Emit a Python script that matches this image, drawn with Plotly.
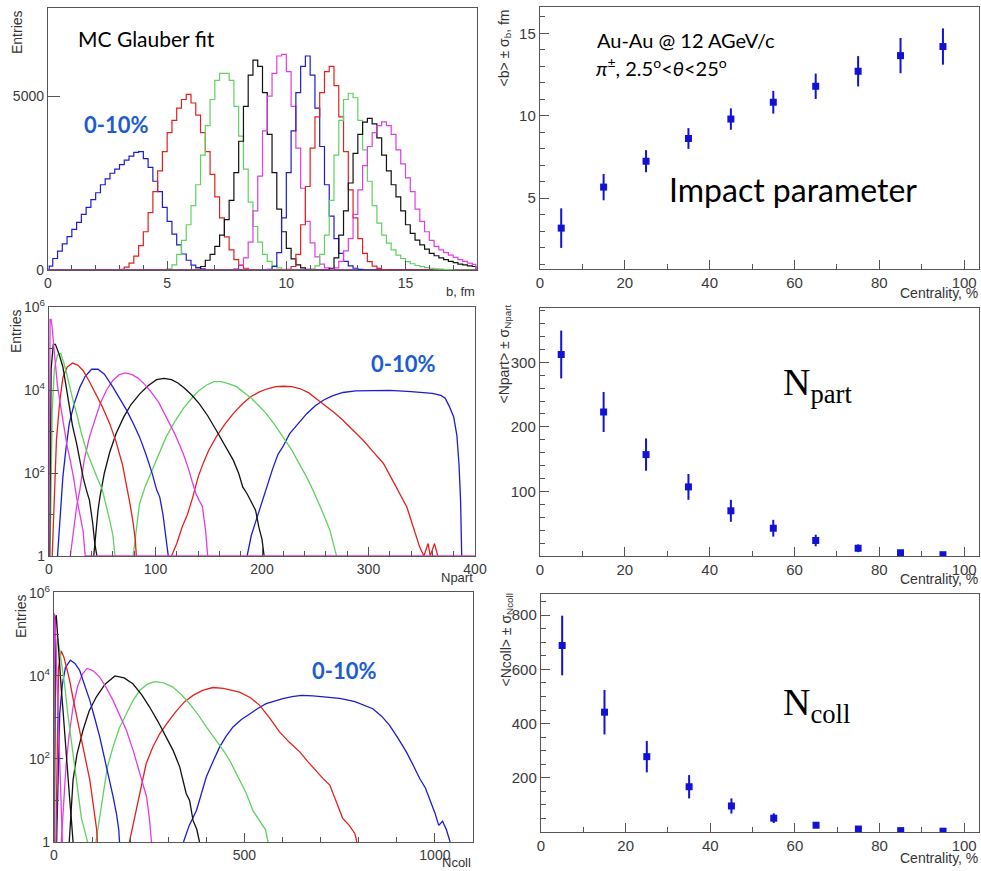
import numpy as np
import plotly.graph_objects as go

W, H = 981, 871

# ---------------- centrality classes ----------------
classes = ["0-10%", "10-20%", "20-30%", "30-40%", "40-50%",
           "50-60%", "60-70%", "70-80%", "80-90%", "90-100%"]
palette = ["#1c1cd2", "#e3211d", "#5fd25f", "#111111", "#e23de2"]
class_colors = palette * 2

# ---------------- impact parameter distributions (entries / 0.2 fm bin) ----------------
b_starts = [0.1, 3.1, 5.1, 6.3, 7.9, 9.3, 10.1, 11.1, 11.9, 12.1]
b_00_10 = [110, 330, 540, 750, 960, 1170, 1370, 1600, 1800, 2020, 2220, 2450, 2620, 2780, 2900,
           3030, 3160, 3270, 3380, 3400, 3200, 2950, 2550, 2250, 1800, 1400, 1030, 720, 460, 280,
           140, 70, 30, 10]
b_10_20 = [20, 80, 200, 400, 700, 1100, 1650, 2250, 2850, 3400, 3950, 4300, 4650, 4900, 5050,
           4800, 4450, 3950, 3400, 2750, 2100, 1500, 950, 580, 300, 130, 50, 15]
b_20_30 = [30, 150, 450, 850, 1300, 1850, 2450, 3300, 4150, 4900, 5450, 5650, 5650, 5450, 4700,
           3850, 2900, 1950, 1250, 800, 450, 250, 130, 60, 20]
b_30_40 = [20, 100, 280, 450, 680, 1000, 1450, 2000, 2800, 3700, 4700, 5600, 6030, 5850, 5100,
           3900, 2800, 1750, 1100, 620, 320, 150, 60, 20]
b_40_50 = [30, 150, 350, 800, 1700, 2700, 4000, 5000, 5650, 6150, 6200, 5700, 4700, 3500, 2350,
           1400, 780, 380, 170, 60, 20]
b_50_60 = [20, 100, 500, 1500, 2800, 4000, 5100, 5850, 6150, 5600, 4650, 3550, 2450, 1550, 900,
           480, 250, 120, 50, 20]
b_60_70 = [20, 100, 450, 1300, 2400, 3500, 4400, 5100, 5700, 5850, 5300, 4400, 3400, 2300, 1500,
           900, 480, 240, 110, 45, 15]
b_70_80 = [30, 120, 450, 1000, 2000, 3300, 4300, 4900, 5080, 4950, 4300, 3450, 2550, 1850, 1350,
           1000, 770, 580, 430, 330, 240, 180, 130, 95, 70, 50, 35, 25, 15, 10]
b_80_90 = [50, 350, 1000, 1700, 2500, 3350, 3900, 4250, 4360, 4200, 3800, 3300, 2850, 2450, 2100,
           1700, 1300, 1050, 860, 720, 600, 480, 410, 350, 300, 250, 210, 170, 145, 120, 100]
b_90_100 = [60, 250, 550, 900, 1600, 2300, 3000, 3550, 3950, 4150, 4260, 4150, 3900, 3450, 3050,
            2650, 2250, 1750, 1400, 1100, 850, 680, 580, 500, 430, 360, 300, 250, 200, 160]
b_hists = [b_00_10, b_10_20, b_20_30, b_30_40, b_40_50,
           b_50_60, b_60_70, b_70_80, b_80_90, b_90_100]

# ---------------- Npart distributions (x, log10 entries) ----------------
npart_00_10_x = [186, 190, 195, 200, 205, 210, 215, 220, 226, 234, 242, 250, 258, 266, 276, 288,
                 300, 320, 340, 360, 368, 372, 376, 380, 383, 385, 386.5, 387.5]
npart_00_10_lg = [0, 0.5, 0.9, 1.3, 1.75, 2.1, 2.45, 2.65, 2.95, 3.2, 3.43, 3.62, 3.76, 3.86, 3.94,
                  3.98, 3.99, 3.99, 3.96, 3.92, 3.87, 3.8, 3.6, 3.35, 2.9, 2.2, 1.3, 0]
npart_10_20_x = [115, 120, 125, 130, 135, 140, 145, 150, 157, 165, 173, 181, 189, 197, 205, 213,
                 220, 228, 236, 244, 251, 260, 268, 276, 285, 295, 304, 314, 320, 326, 331, 336,
                 342, 348, 352, 356, 358, 362, 365]
npart_10_20_lg = [0, 0.3, 0.7, 1.0, 1.42, 1.9, 2.25, 2.55, 2.87, 3.17, 3.43, 3.65, 3.83, 3.95,
                  4.03, 4.08, 4.09, 4.08, 4.03, 3.93, 3.79, 3.62, 3.45, 3.27, 3.05, 2.79, 2.52,
                  2.23, 1.95, 1.66, 1.42, 1.18, 0.7, 0.22, 0, 0.3, 0, 0.3, 0]
npart_20_30_x = [79, 82, 85, 90, 94, 102, 110, 118, 126, 134, 141, 148, 155, 162, 169, 176, 183,
                 190, 197, 204, 212, 220, 228, 235, 242, 248, 253, 257, 261, 264, 267, 270]
npart_20_30_lg = [0, 0.6, 1.26, 1.65, 1.9, 2.4, 2.87, 3.23, 3.55, 3.8, 3.99, 4.12, 4.2, 4.2, 4.15,
                  4.08, 3.95, 3.8, 3.62, 3.43, 3.16, 2.87, 2.55, 2.22, 1.9, 1.58, 1.3, 1.05, 0.8,
                  0.6, 0.3, 0]
npart_30_40_x = [42, 44, 46, 48, 52, 57, 63, 70, 77, 85, 93, 101, 108, 115, 121, 127, 134, 141,
                 149, 157, 165, 173, 178, 182, 186, 190, 194, 197, 200, 202]
npart_30_40_lg = [0, 0.6, 1.1, 1.45, 2.0, 2.5, 2.95, 3.34, 3.65, 3.9, 4.1, 4.25, 4.28, 4.25, 4.17,
                  4.05, 3.88, 3.67, 3.38, 3.03, 2.68, 2.31, 2.0, 1.66, 1.5, 1.3, 1.1, 0.7, 0.4, 0]
npart_40_50_x = [20, 23, 26, 29, 33, 38, 43, 48, 54, 60, 66, 72, 78, 84, 90, 96, 103, 110, 118,
                 126, 131, 135, 138, 141, 144, 147, 149]
npart_40_50_lg = [0, 0.6, 1.2, 1.6, 2.3, 2.87, 3.3, 3.67, 4.0, 4.23, 4.37, 4.41, 4.37, 4.28, 4.13,
                  3.95, 3.7, 3.35, 2.95, 2.47, 2.1, 1.74, 1.5, 1.34, 1.2, 0.62, 0]
npart_50_60_x = [8, 10, 13, 16, 19, 24, 29, 34, 40, 46, 52, 60, 66, 73, 79, 85, 91, 97, 101, 104,
                 107, 110, 112]
npart_50_60_lg = [0, 0.8, 1.9, 2.6, 3.19, 3.7, 4.07, 4.33, 4.5, 4.5, 4.38, 4.07, 3.8, 3.51, 3.2,
                  2.87, 2.45, 1.98, 1.6, 1.42, 1.0, 0.4, 0]
npart_60_70_x = [3, 5, 7, 10, 13, 17, 22, 27, 32, 38, 44, 50, 57, 63, 69, 73, 76, 79, 81, 82]
npart_60_70_lg = [0, 1.5, 2.8, 3.7, 4.3, 4.55, 4.65, 4.6, 4.47, 4.2, 3.9, 3.6, 3.19, 2.75, 2.2,
                  1.7, 1.26, 0.8, 0.4, 0]
npart_70_80_x = [1, 3, 5, 8, 11, 14, 17, 20, 23, 26, 30, 35, 40, 45, 50, 54, 57, 60, 62]
npart_70_80_lg = [0, 3.5, 4.5, 4.85, 4.88, 4.65, 4.35, 4.0, 3.7, 3.43, 3.0, 2.55, 2.2, 1.9, 1.6,
                  1.2, 0.86, 0.5, 0]
npart_80_90_x = [0.5, 2, 4, 6, 9, 13, 16, 19, 22, 26, 29, 32, 35, 38, 41, 43, 45]
npart_80_90_lg = [0, 4.5, 5.1, 5.1, 4.9, 4.56, 4.1, 3.6, 3.15, 2.7, 2.3, 1.9, 1.6, 1.34, 0.8,
                  0.3, 0]
npart_90_100_x = [0, 1, 2, 3, 5, 8, 11, 14, 17, 20, 23, 26, 29, 32, 34, 400]
npart_90_100_lg = [0, 5.7, 5.7, 5.5, 4.9, 4.1, 3.6, 3.1, 2.65, 2.3, 1.9, 1.4, 1.0, 0.6, 0, 0]
npart_x = [npart_00_10_x, npart_10_20_x, npart_20_30_x, npart_30_40_x, npart_40_50_x,
           npart_50_60_x, npart_60_70_x, npart_70_80_x, npart_80_90_x, npart_90_100_x]
npart_lg = [npart_00_10_lg, npart_10_20_lg, npart_20_30_lg, npart_30_40_lg, npart_40_50_lg,
            npart_50_60_lg, npart_60_70_lg, npart_70_80_lg, npart_80_90_lg, npart_90_100_lg]

# ---------------- Ncoll distributions (x, log10 entries) ----------------
ncoll_00_10_x = [340, 355, 374, 388, 400, 418, 435, 452, 470, 492, 514, 536, 557, 580, 601, 625,
                 650, 680, 710, 750, 790, 837, 860, 881, 903, 925, 943, 960, 975, 986, 1000,
                 1010, 1020, 1030, 1040]
ncoll_00_10_lg = [0, 0.4, 0.76, 1.2, 1.57, 1.95, 2.29, 2.55, 2.77, 2.95, 3.09, 3.22, 3.33, 3.4,
                  3.45, 3.5, 3.53, 3.52, 3.5, 3.46, 3.38, 3.21, 3.03, 2.81, 2.5, 2.17, 1.85, 1.53,
                  1.3, 1.05, 0.7, 0.4, 0.5, 0.3, 0]
ncoll_10_20_x = [198, 205, 216, 230, 242, 260, 277, 300, 321, 343, 365, 390, 417, 445, 470, 487,
                 515, 540, 565, 592, 618, 645, 667, 689, 707, 724, 741, 758, 775, 790, 795]
ncoll_10_20_lg = [0, 0.3, 0.76, 1.4, 1.89, 2.3, 2.6, 2.9, 3.15, 3.38, 3.53, 3.65, 3.72, 3.7, 3.65,
                  3.61, 3.48, 3.29, 3.0, 2.65, 2.4, 2.17, 1.93, 1.69, 1.52, 1.37, 0.96, 0.57, 0.4,
                  0.2, 0]
ncoll_20_30_x = [110, 118, 128, 140, 155, 172, 190, 207, 225, 245, 265, 288, 312, 334, 356, 378,
                 400, 422, 444, 462, 479, 492, 505, 522, 540, 555, 562]
ncoll_20_30_lg = [0, 0.5, 1.17, 1.8, 2.29, 2.75, 3.09, 3.4, 3.65, 3.8, 3.86, 3.83, 3.73, 3.55,
                  3.33, 3.07, 2.77, 2.5, 2.21, 1.95, 1.65, 1.4, 1.17, 0.76, 0.5, 0.3, 0]
ncoll_30_40_x = [40, 45, 50, 60, 76, 92, 111, 134, 160, 184, 207, 230, 251, 273, 295, 313, 330,
                 347, 356, 365, 375, 382]
ncoll_30_40_lg = [0, 0.8, 1.49, 2.1, 2.69, 3.15, 3.49, 3.8, 4.0, 3.95, 3.81, 3.55, 3.25, 2.9, 2.53,
                  2.2, 1.81, 1.17, 1.0, 0.52, 0.3, 0]
ncoll_40_50_x = [19, 24, 32, 40, 50, 62, 75, 87, 103, 120, 137, 155, 172, 190, 208, 225, 235, 243,
                 250, 256]
ncoll_40_50_lg = [0, 0.8, 1.89, 2.6, 3.25, 3.75, 4.05, 4.18, 4.12, 3.97, 3.72, 3.41, 3.06, 2.69,
                  2.2, 1.65, 1.3, 1.09, 0.6, 0]
ncoll_50_60_x = [7, 10, 15, 22, 30, 43, 55, 67, 80, 94, 107, 120, 133, 146, 155, 164, 170, 172]
ncoll_50_60_lg = [0, 1.5, 3.09, 3.8, 4.2, 4.38, 4.3, 4.14, 3.8, 3.41, 2.98, 2.53, 2.0, 1.49, 1.1,
                  0.68, 0.3, 0]
ncoll_60_70_x = [5, 8, 12, 19, 26, 33, 41, 50, 58, 67, 76, 85, 94, 100, 107, 112, 114]
ncoll_60_70_lg = [0, 2.5, 4.2, 4.6, 4.45, 4.2, 3.9, 3.45, 3.1, 2.69, 2.25, 1.9, 1.49, 1.1, 0.68,
                  0.3, 0]
ncoll_70_80_x = [2, 4, 7, 10, 15, 21, 28, 36, 46, 54, 63, 72, 80, 88]
ncoll_70_80_lg = [0, 3.5, 4.7, 4.9, 4.6, 4.2, 3.78, 3.1, 2.41, 1.8, 1.2, 0.57, 0.3, 0]
ncoll_80_90_x = [0, 2, 4, 6, 9, 12, 15, 19, 24, 28, 32, 37, 41, 46, 50]
ncoll_80_90_lg = [0, 4.5, 5.4, 5.46, 5.0, 4.5, 4.18, 3.7, 3.13, 2.6, 2.0, 1.5, 1.05, 0.5, 0]
ncoll_90_100_x = [0, 1, 3, 6, 10, 14, 18, 22]
ncoll_90_100_lg = [0, 5.5, 5.3, 4.5, 3.3, 2.0, 0.8, 0]
ncoll_x = [ncoll_00_10_x, ncoll_10_20_x, ncoll_20_30_x, ncoll_30_40_x, ncoll_40_50_x,
           ncoll_50_60_x, ncoll_60_70_x, ncoll_70_80_x, ncoll_80_90_x, ncoll_90_100_x]
ncoll_lg = [ncoll_00_10_lg, ncoll_10_20_lg, ncoll_20_30_lg, ncoll_30_40_lg, ncoll_40_50_lg,
            ncoll_50_60_lg, ncoll_60_70_lg, ncoll_70_80_lg, ncoll_80_90_lg, ncoll_90_100_lg]

# ---------------- mean values vs centrality ----------------
centrality = [5, 15, 25, 35, 45, 55, 65, 75, 85, 95]
b_mean = [3.18, 5.67, 7.24, 8.62, 9.8, 10.82, 11.79, 12.7, 13.65, 14.2]
b_sigma = [1.2, 0.8, 0.67, 0.63, 0.65, 0.69, 0.77, 0.92, 1.07, 1.1]
npart_mean = [312, 223, 157, 107, 70, 43, 24, 12, 5, 2]
npart_sigma = [37, 31, 25, 20, 17, 13, 9, 6, 3, 2]
ncoll_mean = [688, 442, 278, 167, 96, 51, 25, 11, 5, 3]
ncoll_sigma = [110, 82, 58, 43, 28, 18, 10, 5, 2, 1]

# ---------------- figure ----------------
fig = go.Figure()

TICK_FONT = dict(family="Liberation Sans, Arial, sans-serif", size=14, color="#3a3a3a")
FRAME = "#555555"
MARK = "#1212d4"


def px_x(l, r):
    return [l / W, r / W]


def px_y(t, b):
    return [1 - b / H, 1 - t / H]


def axis(domain, rng, anchor, **kw):
    d = dict(domain=domain, range=rng, anchor=anchor, showline=True, mirror=True,
             linecolor=FRAME, linewidth=1.4, ticks="inside", ticklen=9, tickwidth=1,
             tickcolor=FRAME, showgrid=False, zeroline=False, tickfont=TICK_FONT,
             fixedrange=True, automargin=False)
    d.update(kw)
    return d


# panel 1: impact parameter histograms
b_centers = np.round(np.arange(0.1, 18.0, 0.2), 1)
for vals, start, col in zip(b_hists, b_starts, class_colors):
    y = np.zeros(len(b_centers))
    i0 = int(round((start - 0.1) / 0.2))
    y[i0:i0 + len(vals)] = vals
    fig.add_trace(go.Scatter(x=np.r_[0.0, b_centers, 18.0], y=np.r_[0.0, y, 0.0],
                             mode="lines", line=dict(color=col, width=1.2, shape="hvh"),
                             xaxis="x", yaxis="y", hoverinfo="skip"))

# panel 3: Npart
for xs, lg, col in zip(npart_x, npart_lg, class_colors):
    fig.add_trace(go.Scatter(x=xs, y=10 ** np.array(lg, float), mode="lines",
                             line=dict(color=col, width=1.3), xaxis="x3", yaxis="y3",
                             hoverinfo="skip"))

# panel 5: Ncoll
for xs, lg, col in zip(ncoll_x, ncoll_lg, class_colors):
    fig.add_trace(go.Scatter(x=xs, y=10 ** np.array(lg, float), mode="lines",
                             line=dict(color=col, width=1.3), xaxis="x5", yaxis="y5",
                             hoverinfo="skip"))

# right column: means with sigma bars
for ax, mean, sig in (("2", b_mean, b_sigma), ("4", npart_mean, npart_sigma),
                      ("6", ncoll_mean, ncoll_sigma)):
    fig.add_trace(go.Scatter(x=centrality, y=mean, mode="markers",
                             marker=dict(symbol="square", size=7, color=MARK),
                             error_y=dict(type="data", array=sig, visible=True, color=MARK,
                                          thickness=2, width=0),
                             xaxis="x" + ax, yaxis="y" + ax, hoverinfo="skip"))

log_ticks = dict(type="log", tickvals=[1, 100, 1e4, 1e6],
                 ticktext=["1", "10<sup>2</sup>", "10<sup>4</sup>", "10<sup>6</sup>"],
                 minor=dict(tickvals=[10, 1000, 1e5], ticklen=5, tickcolor=FRAME,
                            ticks="inside"))

fig.update_layout(
    template="none",
    width=W, height=H, margin=dict(l=0, r=0, t=0, b=0, autoexpand=False),
    paper_bgcolor="white", plot_bgcolor="white", showlegend=False,
    xaxis=axis(px_x(48, 477), [0, 18], "y", dtick=5, tick0=0,
               minor=dict(dtick=1, ticklen=5, ticks="inside", tickcolor=FRAME)),
    yaxis=axis(px_y(8, 270), [0, 7530], "x", tickvals=[0, 5000], ticklen=12),
    xaxis2=axis(px_x(540, 979), [0, 103.5], "y2", tickvals=[0, 20, 40, 60, 80, 100],
                tickfont=dict(TICK_FONT, size=15),
                minor=dict(tickvals=[10, 30, 50, 70, 90], ticklen=5, ticks="inside",
                           tickcolor=FRAME)),
    yaxis2=axis(px_y(7, 269), [0.7, 16.6], "x2", tickvals=[5, 10, 15],
                tickfont=dict(TICK_FONT, size=15),
                minor=dict(dtick=1, tick0=0, ticklen=5, ticks="inside", tickcolor=FRAME)),
    xaxis3=axis(px_x(49, 475), [0, 400], "y3", dtick=100, tick0=0,
                minor=dict(dtick=20, ticklen=5, ticks="inside", tickcolor=FRAME)),
    yaxis3=axis(px_y(307, 556), [0, 6], "x3", **log_ticks),
    xaxis4=axis(px_x(540, 979), [0, 103.5], "y4", tickvals=[0, 20, 40, 60, 80, 100],
                tickfont=dict(TICK_FONT, size=15),
                minor=dict(tickvals=[10, 30, 50, 70, 90], ticklen=5, ticks="inside",
                           tickcolor=FRAME)),
    yaxis4=axis(px_y(308, 556), [0, 384], "x4", tickvals=[100, 200, 300],
                tickfont=dict(TICK_FONT, size=15),
                minor=dict(dtick=20, tick0=0, ticklen=5, ticks="inside", tickcolor=FRAME)),
    xaxis5=axis(px_x(54, 473), [0, 1100], "y5", tickvals=[0, 500, 1000],
                minor=dict(dtick=100, tick0=0, ticklen=5, ticks="inside", tickcolor=FRAME)),
    yaxis5=axis(px_y(592, 842), [0, 6.02], "x5", **log_ticks),
    xaxis6=axis(px_x(541, 979), [0, 103.5], "y6", tickvals=[0, 20, 40, 60, 80, 100],
                tickfont=dict(TICK_FONT, size=15),
                minor=dict(tickvals=[10, 30, 50, 70, 90], ticklen=5, ticks="inside",
                           tickcolor=FRAME)),
    yaxis6=axis(px_y(594, 832), [0, 878], "x6", tickvals=[200, 400, 600, 800],
                tickfont=dict(TICK_FONT, size=15),
                minor=dict(dtick=50, tick0=0, ticklen=5, ticks="inside", tickcolor=FRAME)),
)

SANS = "Liberation Sans, Arial, sans-serif"
CAL = "Lato, Open Sans, sans-serif"
SERIF = "Liberation Serif, Times New Roman, serif"
LABEL_BLUE = "#1d5bd4"


def note(text, x, y, size, family=SANS, color="#333333", xanchor="center", yanchor="middle",
         angle=0):
    fig.add_annotation(text=text, x=x / W, y=1 - y / H, xref="paper", yref="paper",
                       showarrow=False, font=dict(family=family, size=size, color=color),
                       xanchor=xanchor, yanchor=yanchor, textangle=angle)


# axis titles
note("Entries", 17, 8, 14, angle=-90, yanchor="top")
note("Entries", 16, 307, 14, angle=-90, yanchor="top")
note("Entries", 21, 592, 14, angle=-90, yanchor="top")
note("b, fm", 477, 291, 13, xanchor="right")
note("Npart", 475, 577, 13, xanchor="right")
note("Ncoll", 473, 862, 13, xanchor="right")
note("Centrality, %", 980, 293, 14, xanchor="right")
note("Centrality, %", 980, 579, 14, xanchor="right")
note("Centrality, %", 980, 858, 14, xanchor="right")
note("&lt;b&gt; ± σ<sub>b</sub>, fm", 505, 7, 14, angle=-90, yanchor="top")
note("&lt;Npart&gt; ± σ<sub>Npart</sub>", 504, 303, 14, angle=-90, yanchor="top")
note("&lt;Ncoll&gt; ± σ<sub>Ncoll</sub>", 506, 592, 14, angle=-90, yanchor="top")

# panel labels
note("MC Glauber fit", 76, 38, 21, family=CAL, color="#000000", xanchor="left")
note("<b>0-10%</b>", 82, 124, 22, family=CAL, color=LABEL_BLUE, xanchor="left")
note("<b>0-10%</b>", 369, 363, 22, family=CAL, color=LABEL_BLUE, xanchor="left")
note("<b>0-10%</b>", 310, 670, 22, family=CAL, color=LABEL_BLUE, xanchor="left")
note("Au-Au @ 12 AGeV/c", 595, 40, 20, family=CAL, color="#000000", xanchor="left")
note("<i>π</i><sup>±</sup>, 2.5<sup>o</sup>&lt;<i>θ</i>&lt;25<sup>o</sup>", 594, 67, 20,
     family=CAL, color="#000000", xanchor="left")
note("Impact parameter", 667, 189, 32, family=CAL, color="#000000", xanchor="left")
note("N<sub>part</sub>", 781, 385, 38, family=SERIF, color="#000000", xanchor="left")
note("N<sub>coll</sub>", 781, 705, 38, family=SERIF, color="#000000", xanchor="left")

fig.write_html("out.html")
